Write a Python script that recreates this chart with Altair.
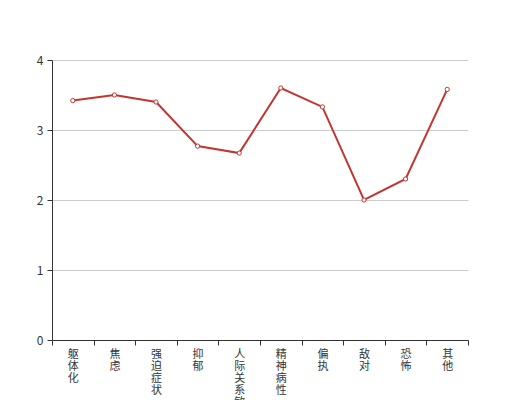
import altair as alt
import pandas as pd

categories = ["躯体化", "焦虑", "强迫症状", "抑郁", "人际关系敏感", "精神病性", "偏执", "敌对", "恐怖", "其他"]
values = [3.42, 3.50, 3.40, 2.77, 2.67, 3.60, 3.33, 2.00, 2.30, 3.58]

df = pd.DataFrame({"cat": categories, "val": values})

FONT = "Noto Sans CJK SC"
RED = "#c23531"

x_axis = alt.Axis(labelAngle=0, labelExpr="split(datum.label, '')",
                  labelLineHeight=12, tickBand="extent", tickSize=5,
                  domainColor="#333", tickColor="#333", labelColor="#333",
                  labelFontSize=11, labelFont=FONT, grid=False,
                  labelPadding=3)
x_enc = alt.X("cat:N", sort=categories, title=None,
              scale=alt.Scale(paddingInner=0, paddingOuter=0), axis=x_axis)
y_enc = alt.Y("val:Q", title=None,
              scale=alt.Scale(domain=[0, 4]),
              axis=alt.Axis(values=[0, 1, 2, 3, 4], format="d", tickSize=5,
                            domainColor="#333", tickColor="#333", labelColor="#333",
                            labelFontSize=12, labelFont=FONT, gridColor="#ccc",
                            gridWidth=1, labelPadding=4))

line = alt.Chart(df).mark_line(color=RED, strokeWidth=2).encode(x=x_enc, y=y_enc)
pts = alt.Chart(df).mark_point(shape="circle", filled=True, fill="white",
                               stroke=RED, strokeWidth=1, size=18, opacity=1).encode(
    x=x_enc, y=y_enc)

chart = alt.layer(line, pts).properties(
    width=416, height=280,
    autosize=alt.AutoSizeParams(type="none"),
    padding={"left": 44, "top": 52, "right": 40, "bottom": 70},
).configure(font=FONT).configure_view(stroke=None)

chart.save("out.html", embed_options={"renderer": "svg", "actions": False})
